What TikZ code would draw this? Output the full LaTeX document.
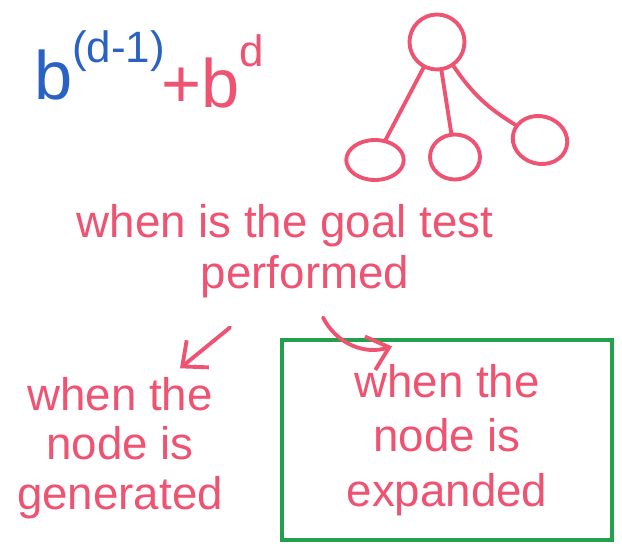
\documentclass[tikz,border=0pt]{standalone}
\usepackage{fontspec}
\setmainfont{Liberation Sans}
\usepackage{tikz}
\usetikzlibrary{shapes.geometric, arrows.meta, positioning}
\definecolor{inkpink}{RGB}{238,84,114}
\definecolor{inkblue}{RGB}{42,98,196}
\definecolor{inkgreen}{RGB}{34,160,78}

\begin{document}
\begin{tikzpicture}[
    x=0.02cm, y=-0.02cm,
    ink/.style={text=inkpink, font=\fontsize{26}{31}\selectfont},
    vertex/.style={ellipse, draw=inkpink, line width=2.2pt, inner sep=0pt},
    link/.style={draw=inkpink, line width=2.2pt, line cap=round},
    pinkarrow/.style={link, -{Straight Barb[length=4mm, width=7mm]}},
    goalbox/.style={rectangle, draw=inkgreen, line width=1.8pt, minimum width=6.6cm, minimum height=4cm}
]
\useasboundingbox (0,0) rectangle (622,550);

% Cost of the last level
\node[text=inkblue, font=\fontsize{39}{44}\selectfont, anchor=base west] (bprev) at (28,100)
    {b\raisebox{0.55em}{\fontsize{25}{28}\selectfont(d-1)}};
\node[text=inkpink, font=\fontsize{39}{44}\selectfont, anchor=base west] (bnext) at (155,108)
    {+b\raisebox{0.6em}{\fontsize{25}{28}\selectfont d}};

% Small search tree
\node[vertex, minimum width=1.1cm, minimum height=1.1cm] (root) at (437,42) {};
\node[vertex, minimum width=1.15cm, minimum height=0.8cm] (kid1) at (375,160) {};
\node[vertex, minimum width=1.0cm, minimum height=0.9cm] (kid2) at (455,157) {};
\node[vertex, minimum width=1.1cm, minimum height=0.95cm, rotate=-15] (kid3) at (540,140) {};

\draw[link] (root) -- (kid1);
\draw[link] (root) -- (kid2);
\draw[link] (root) to[bend right=12] (kid3);

% The question
\node[ink] (goal) at (285,226) {when is the goal test};
\node[ink] (perf) at (305,277) {performed};

% The two answers
\node[ink, align=center, font=\fontsize{26}{28}\selectfont] (gen) at (120,448) {when the\\node is\\generated};
\node[goalbox, ink, align=center] (exp) at (447,440) {when the\\node is\\expanded};

\draw[pinkarrow] ([shift={(-75,23)}]perf.south) -- ([shift={(60,-3)}]gen.north);
\draw[pinkarrow] ([shift={(18,13)}]perf.south) to[bend right=40] ([shift={(-55,8)}]exp.north);

\end{tikzpicture}
\end{document}
